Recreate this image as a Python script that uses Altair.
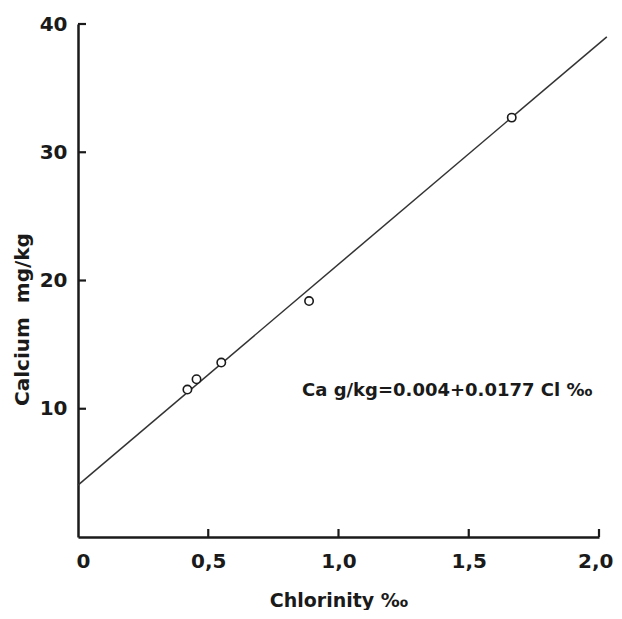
import altair as alt
import pandas as pd

# Data
chlorinity = [0.42, 0.455, 0.55, 0.887, 1.665]
calcium = [11.5, 12.3, 13.6, 18.4, 32.7]

fit_x = [0.0, 2.03]
fit_y = [4.05, 39.0]

x_ticks = [0.0, 0.5, 1.0, 1.5, 2.0]
x_labels = ["0", "0,5", "1,0", "1,5", "2,0"]
y_ticks = [10, 20, 30, 40]

note_text = ["Ca g/kg=0.004+0.0177 Cl ‰"]
note_x = [0.86]
note_y = [11.4]

FONT = "DejaVu Sans"
INK = "#1a1a1a"

pts = pd.DataFrame({"x": chlorinity, "y": calcium})
fit = pd.DataFrame({"x": fit_x, "y": fit_y})
xt = pd.DataFrame({"x": x_ticks[1:]})
yt = pd.DataFrame({"y": y_ticks})
note = pd.DataFrame({"x": note_x, "y": note_y, "t": note_text})

label_expr = " : ".join(
    [f"datum.value == {v} ? '{l}'" for v, l in zip(x_ticks, x_labels)] + ["''"]
)

W, H = 521, 513

xscale = alt.Scale(domain=[0, 2.0], nice=False, zero=False)
yscale = alt.Scale(domain=[0, 40], nice=False, zero=False)

xaxis = alt.Axis(
    values=x_ticks, labelExpr=label_expr, ticks=False, grid=False,
    domainColor=INK, domainWidth=2.5, labelFont=FONT, labelFontSize=20,
    labelFontWeight="bold", labelColor=INK, labelPadding=14,
    labelAlign={"condition": {"test": f"datum.value == {x_ticks[-1]}", "value": "right"},
                "value": "center"},
    labelOffset={"condition": [
        {"test": f"datum.value == {x_ticks[-1]}", "value": 14},
        {"test": f"datum.value == {x_ticks[0]}", "value": 5},
    ], "value": 0},
    title="Chlorinity ‰", titleFont=FONT, titleFontSize=19, titleFontWeight="bold",
    titleColor=INK, titleY=63, titleBaseline="middle", labelFlush=False,
)
yaxis = alt.Axis(
    values=y_ticks, ticks=False, grid=False,
    domainColor=INK, domainWidth=2.5, labelFont=FONT, labelFontSize=20,
    labelFontWeight="bold", labelColor=INK, labelPadding=11,
    title="Calcium\u00a0\u00a0mg/kg", titleFont=FONT, titleFontSize=20,
    titleFontWeight="bold", titleColor=INK, titleX=-56, titleY=295,
    titleBaseline="middle", labelFlush=False,
)

line = alt.Chart(fit).mark_line(color="#333333", strokeWidth=1.5, clip=False).encode(
    x=alt.X("x:Q", scale=xscale, axis=xaxis),
    y=alt.Y("y:Q", scale=yscale, axis=yaxis),
)

points = alt.Chart(pts).mark_point(
    shape="circle", size=70, filled=True, fill="white", stroke=INK, strokeWidth=1.6,
    opacity=1,
).encode(x=alt.X("x:Q", scale=xscale), y=alt.Y("y:Q", scale=yscale))

xtick_marks = alt.Chart(xt).mark_rule(color=INK, strokeWidth=2.2).encode(
    x=alt.X("x:Q", scale=xscale), y=alt.value(H), y2=alt.value(H - 8)
)
ytick_marks = alt.Chart(yt).mark_rule(color=INK, strokeWidth=2.2).encode(
    y=alt.Y("y:Q", scale=yscale), x=alt.value(0), x2=alt.value(8)
)

text = alt.Chart(note).mark_text(
    align="left", baseline="middle", font=FONT, fontSize=18, fontWeight="bold", color=INK
).encode(x=alt.X("x:Q", scale=xscale), y=alt.Y("y:Q", scale=yscale), text="t:N")

chart = (
    alt.layer(line, xtick_marks, ytick_marks, points, text)
    .properties(
        width=W, height=H,
        autosize=alt.AutoSizeParams(type="none"),
        padding={"left": 70, "top": 16, "right": 15, "bottom": 73},
        view=alt.ViewBackground(stroke="transparent", strokeOpacity=0, strokeWidth=0),
    )
    .configure_view(strokeWidth=0, stroke="transparent", strokeOpacity=0)
    .configure_axis(grid=False)
    .configure(background="white")
)

chart.save("out.html", embed_options={"renderer": "svg", "actions": False})
